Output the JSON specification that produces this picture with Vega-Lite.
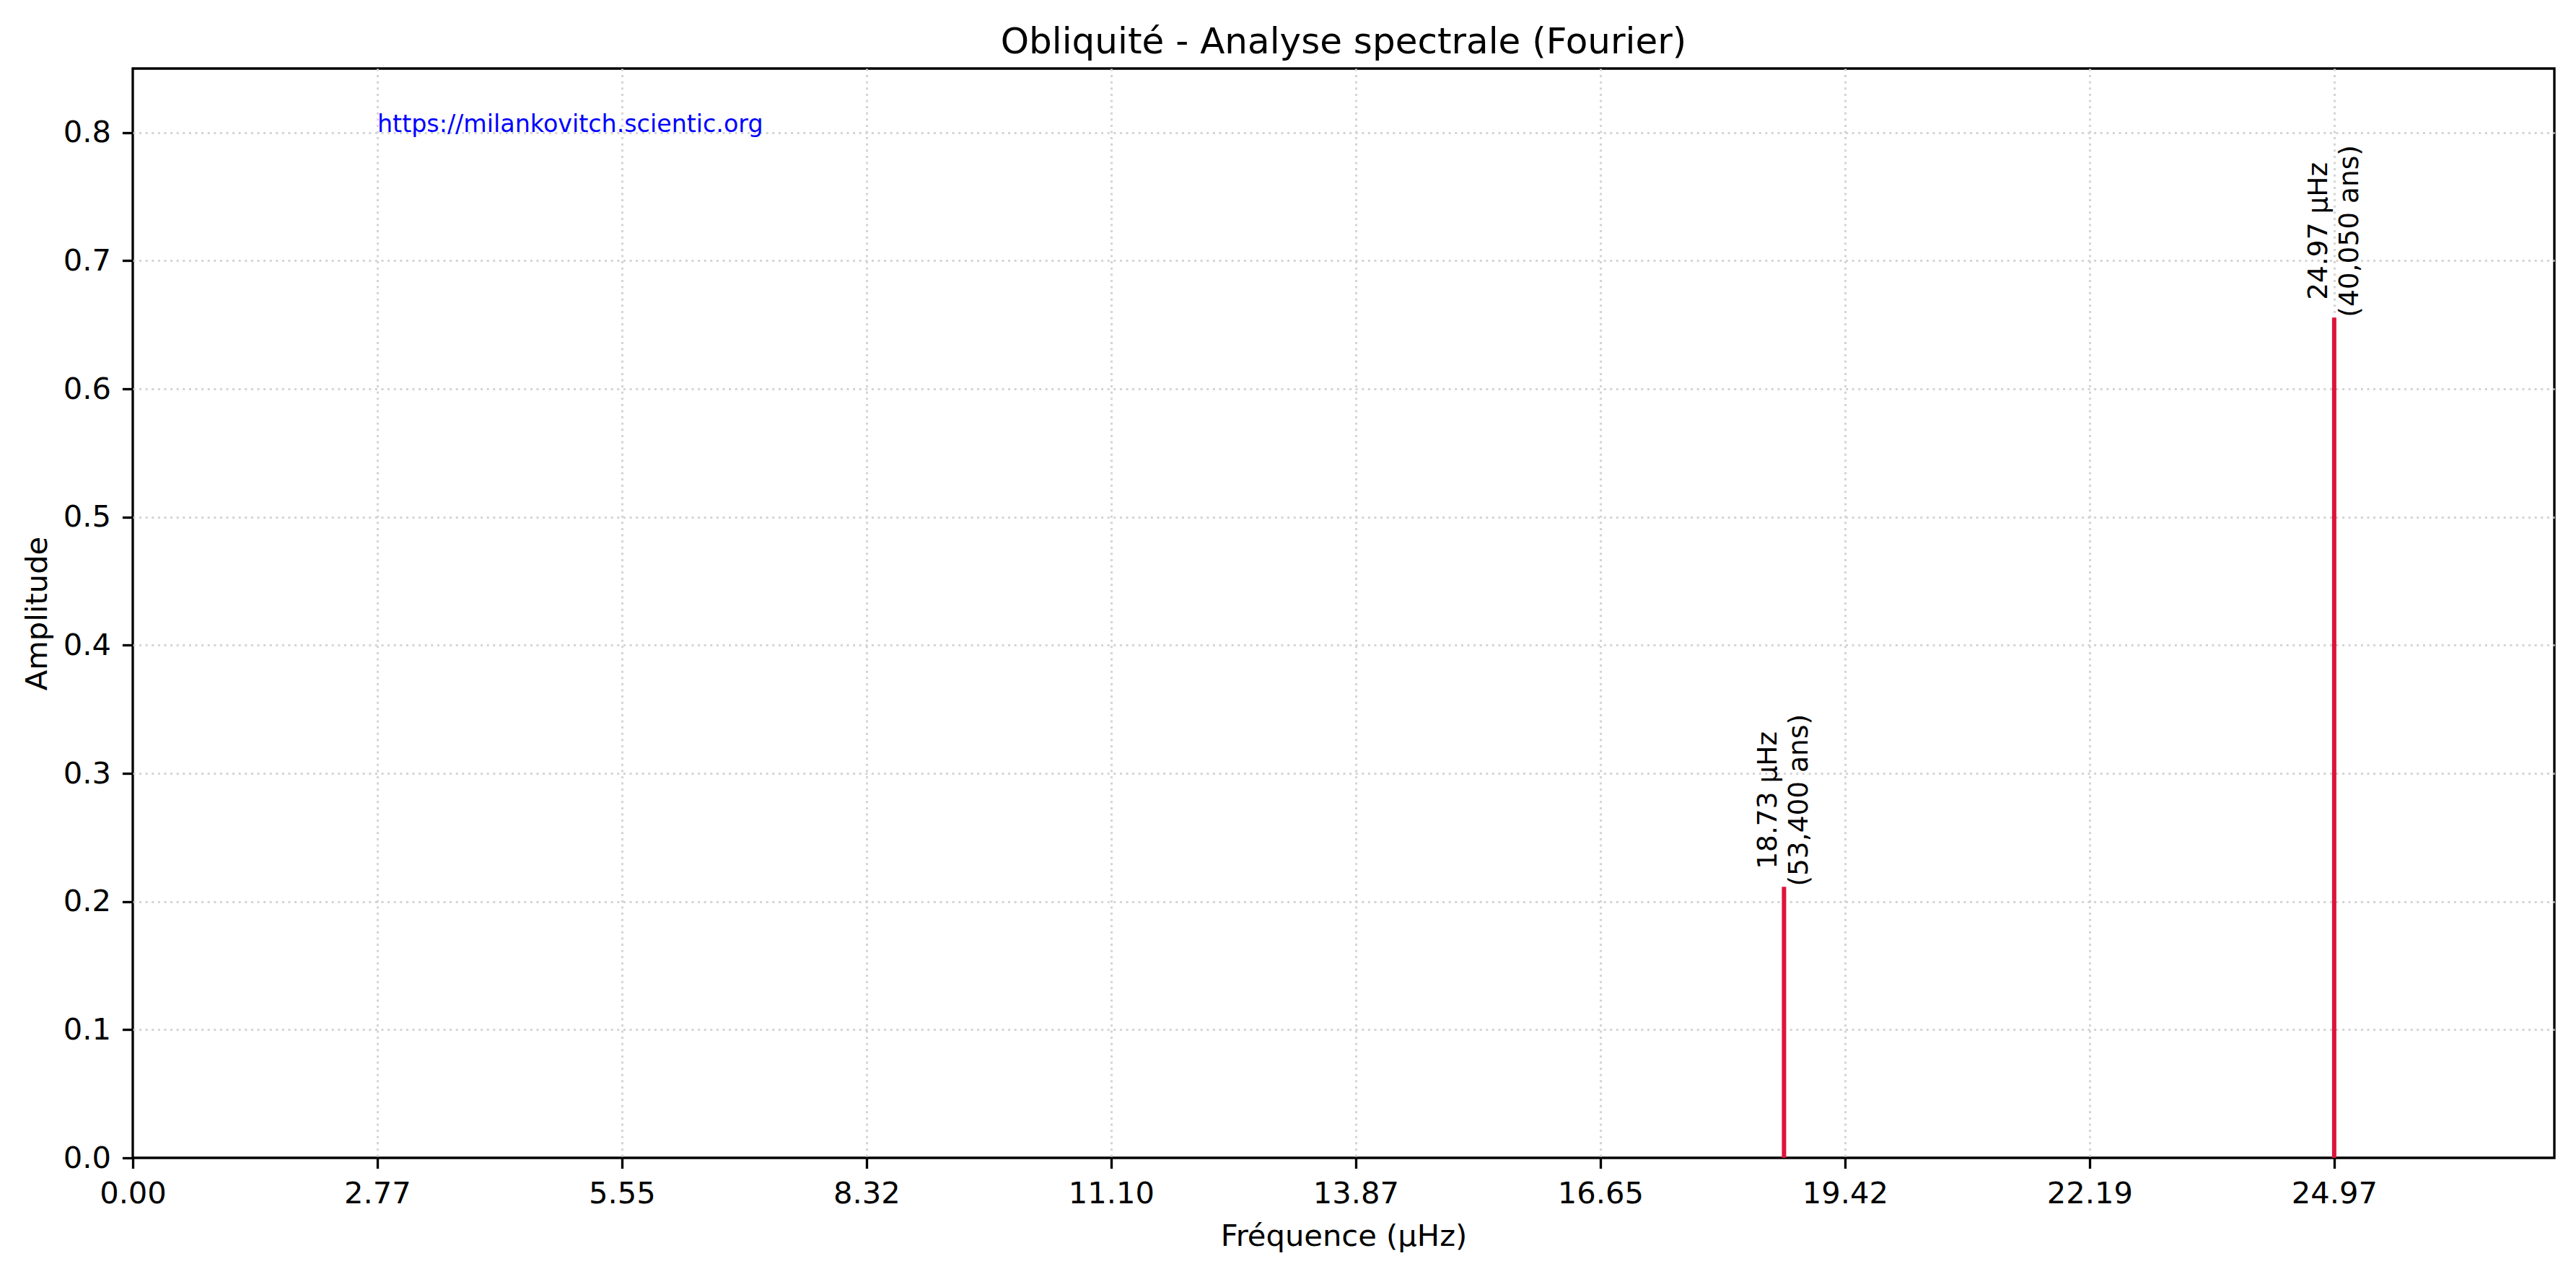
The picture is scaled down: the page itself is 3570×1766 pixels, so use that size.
{
  "$schema": "https://vega.github.io/schema/vega-lite/v6.json",
  "width": 3356,
  "height": 1510,
  "autosize": {"type": "none"},
  "padding": {"left": 184, "top": 95, "right": 30, "bottom": 161},
  "background": "white",
  "title": {
    "text": "Obliquité - Analyse spectrale (Fourier)",
    "font": "DejaVu Sans",
    "fontSize": 50,
    "fontWeight": "normal",
    "color": "black",
    "baseline": "alphabetic",
    "anchor": "middle",
    "frame": "group",
    "offset": -29
  },
  "config": {
    "view": {"stroke": "black", "strokeWidth": 3.33},
    "axis": {
      "domain": false,
      "labelFont": "DejaVu Sans",
      "labelFontSize": 41.67,
      "labelColor": "black",
      "labelFlush": false,
      "labelOverlap": false,
      "tickColor": "black",
      "tickSize": 14.6,
      "tickWidth": 3.33,
      "grid": true,
      "gridColor": "#d4d4d4",
      "gridWidth": 3,
      "gridDash": [3, 5.6],
      "titleFont": "DejaVu Sans",
      "titleFontSize": 41.67,
      "titleFontWeight": "normal",
      "titleColor": "black"
    }
  },
  "datasets": {
    "peaks": [
      {"f": 18.728, "a": 0.2115, "label": "18.73 μHz\n(53,400 ans)"},
      {"f": 24.968, "a": 0.6556, "label": "24.97 μHz\n(40,050 ans)"}
    ],
    "url": [
      {"f": 2.7742, "a": 0.806, "label": "https://milankovitch.scientic.org"}
    ]
  },
  "layer": [
    {
      "data": {"name": "peaks"},
      "mark": {"type": "rule", "color": "#dc143c", "strokeWidth": 6},
      "encoding": {
        "x": {
          "field": "f",
          "type": "quantitative",
          "scale": {"domain": [0, 27.465], "nice": false, "zero": false},
          "axis": {
            "title": "Fréquence (μHz)",
            "values": [0, 2.77422, 5.54844, 8.32267, 11.09689, 13.87111, 16.64533, 19.41956, 22.19378, 24.968],
            "format": ".2f",
            "labelPadding": 14.5,
            "titleBaseline": "alphabetic",
            "titleY": 121,
            "gridOpacity": {"condition": {"test": "datum.value === 0", "value": 0}, "value": 1}
          }
        },
        "y": {
          "field": "a",
          "type": "quantitative",
          "scale": {"domain": [0, 0.85], "nice": false},
          "axis": {
            "title": "Amplitude",
            "values": [0, 0.1, 0.2, 0.3, 0.4, 0.5, 0.6, 0.7, 0.8],
            "format": ".1f",
            "labelPadding": 16,
            "titleAngle": 270,
            "titleBaseline": "alphabetic",
            "titleX": -120,
            "gridOpacity": {"condition": {"test": "datum.value === 0", "value": 0}, "value": 1}
          }
        },
        "y2": {"datum": 0}
      }
    },
    {
      "data": {"name": "peaks"},
      "mark": {
        "type": "text",
        "angle": 270,
        "align": "center",
        "baseline": "middle",
        "dx": 120,
        "dy": -21,
        "lineBreak": "\n",
        "lineHeight": 43,
        "font": "DejaVu Sans",
        "fontSize": 37.5,
        "color": "black"
      },
      "encoding": {
        "x": {"field": "f", "type": "quantitative"},
        "y": {"field": "a", "type": "quantitative"},
        "text": {"field": "label"}
      }
    },
    {
      "data": {"name": "url"},
      "mark": {
        "type": "text",
        "align": "left",
        "baseline": "middle",
        "font": "DejaVu Sans",
        "fontSize": 33.3,
        "color": "#0000ff"
      },
      "encoding": {
        "x": {"field": "f", "type": "quantitative"},
        "y": {"field": "a", "type": "quantitative"},
        "text": {"field": "label"}
      }
    }
  ]
}
